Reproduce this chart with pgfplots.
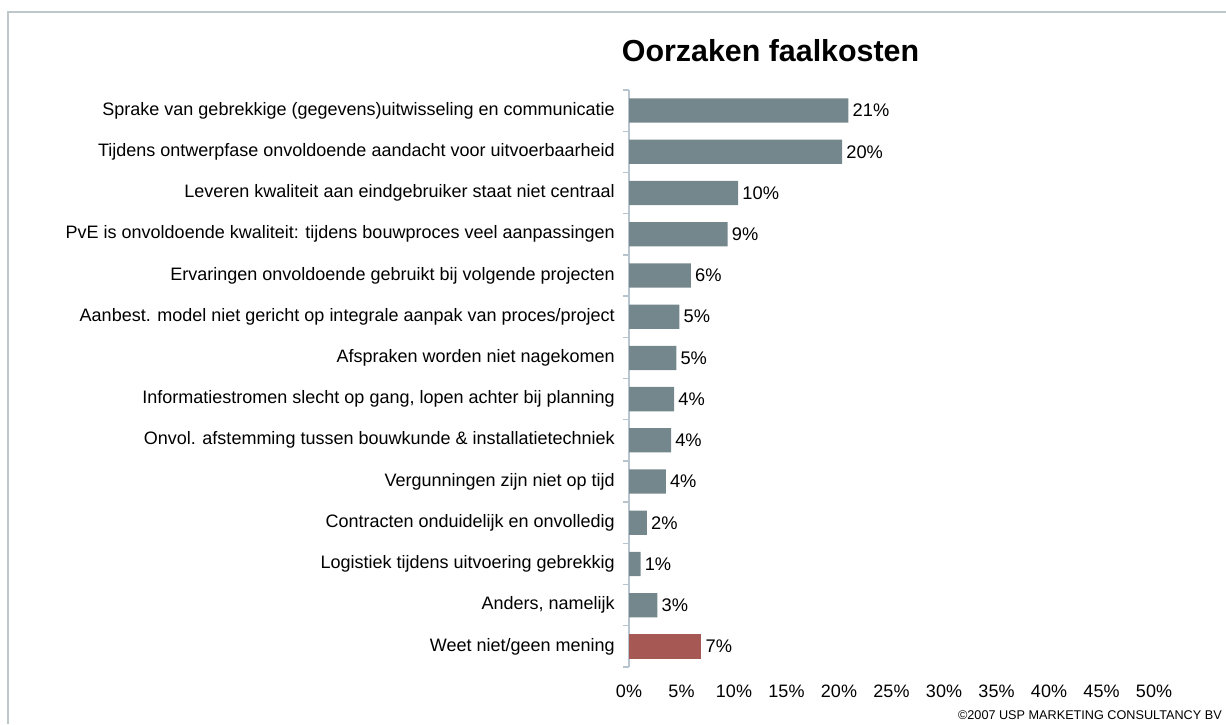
\documentclass[border=0pt]{standalone}
\usepackage{pgfplots}
\pgfplotsset{compat=1.18}
\usepackage{pgfplotstable}
\usepackage{fontspec}
\setmainfont{Liberation Sans}
\definecolor{bargray}{HTML}{74878C}
\definecolor{barred}{HTML}{A65855}
\definecolor{axisgray}{HTML}{B9C5CE}
\definecolor{framegray}{HTML}{BEC8CA}

\pgfplotstableread{
y x lab
0 20.9 21
1 20.3 20
2 10.4 10
3 9.4 9
4 5.9 6
5 4.8 5
6 4.5 5
7 4.3 4
8 4.0 4
9 3.5 4
10 1.7 2
11 1.1 1
12 2.7 3
}\graydata
\pgfplotstableread{
y x lab
13 6.9 7
}\reddata

\begin{document}
\begin{tikzpicture}
\useasboundingbox (0pt,0pt) rectangle (919.5pt,-543pt);
\draw[framegray, line width=1.5pt] (919.5pt,-9pt) -- (6pt,-9pt) -- (6pt,-543pt);
\begin{axis}[
  at={(471.75pt,-500.25pt)}, anchor=south west,
  scale only axis, width=393.75pt, height=432.75pt,
  xmin=0, xmax=50, ymin=-0.5, ymax=13.5, y dir=reverse,
  enlargelimits=false, clip=false,
  xbar, bar width=18.2pt, bar shift=0pt,
  axis y line*=left, axis x line*=bottom,
  x axis line style={draw=none},
  y axis line style={axisgray, line width=1pt},
  /pgf/number format/assume math mode=true,
  xtick={0,5,...,50},
  xticklabel={\pgfmathprintnumber{\tick}\%},
  xtick style={draw=none},
  xticklabel style={yshift=-10pt},
  ytick={0,...,13},
  yticklabels={
    Sprake van gebrekkige (gegevens)uitwisseling en communicatie,
    Tijdens ontwerpfase onvoldoende aandacht voor uitvoerbaarheid,
    Leveren kwaliteit aan eindgebruiker staat niet centraal,
    PvE is onvoldoende kwaliteit: tijdens bouwproces veel aanpassingen,
    Ervaringen onvoldoende gebruikt bij volgende projecten,
    Aanbest. model niet gericht op integrale aanpak van proces/project,
    Afspraken worden niet nagekomen,
    {Informatiestromen slecht op gang, lopen achter bij planning},
    Onvol. afstemming tussen bouwkunde \& installatietechniek,
    Vergunningen zijn niet op tijd,
    Contracten onduidelijk en onvolledig,
    Logistiek tijdens uitvoering gebrekkig,
    {Anders, namelijk},
    Weet niet/geen mening},
  minor ytick={-0.5,0.5,...,13.5},
  ytick style={axisgray, line width=1pt},
  major tick length=0pt,
  minor tick length=4.5pt,
  tick align=outside,
  tick label style={font=\fontsize{13.5}{16}\selectfont, text=black},
  yticklabel style={inner sep=0pt, xshift=-10.5pt},
  point meta=explicit symbolic,
  nodes near coords={\pgfplotspointmeta\%},
  nodes near coords style={anchor=west, inner sep=0pt, xshift=3pt, font=\fontsize{13.7}{16}\selectfont, text=black},
]
\addplot[fill=bargray, draw=none] table[x=x, y=y, meta=lab] {\graydata};
\addplot[fill=barred, draw=none] table[x=x, y=y, meta=lab] {\reddata};
\end{axis}
\node[font=\bfseries\fontsize{22.8}{27}\selectfont, anchor=base] at (577.9pt,-46pt) {Oorzaken faalkosten};
\node[font=\fontsize{9.5}{11}\selectfont, anchor=base east, inner sep=0pt] at (916.5pt,-539.5pt) {©2007 USP MARKETING CONSULTANCY BV};
\end{tikzpicture}
\end{document}
